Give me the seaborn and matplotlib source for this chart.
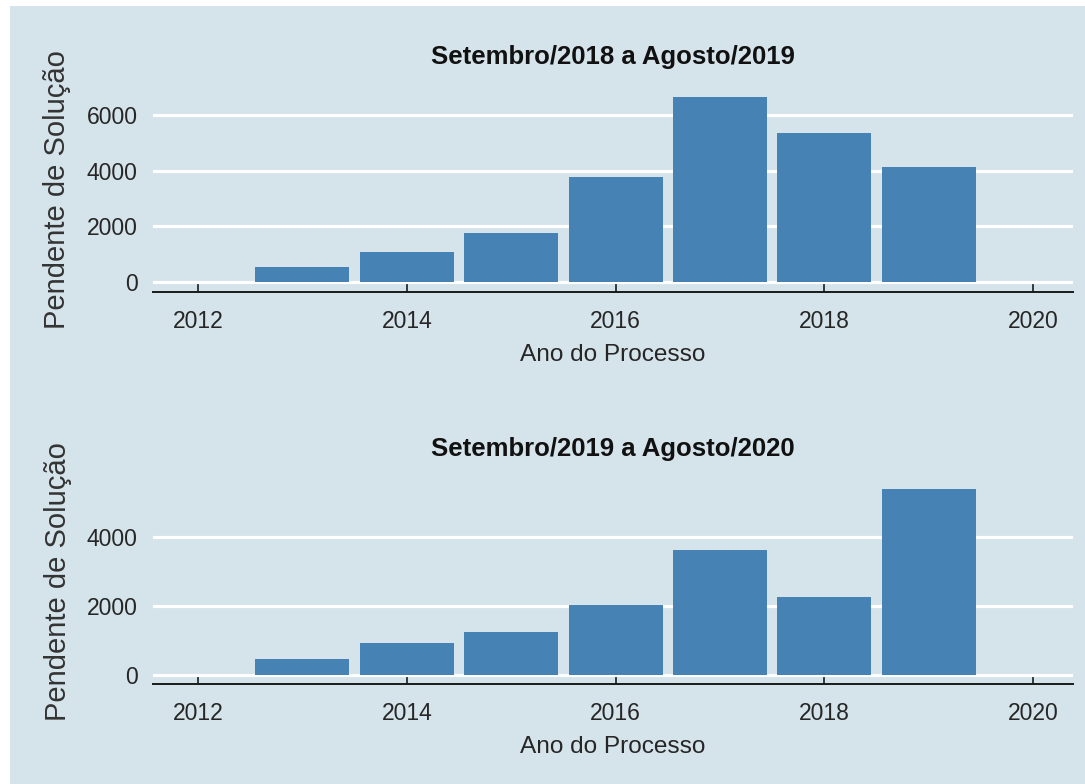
import matplotlib
matplotlib.use("Agg")
import matplotlib.pyplot as plt
import numpy as np
import pandas as pd
import seaborn as sns
from matplotlib.patches import Rectangle

# values
anos = [2013, 2014, 2015, 2016, 2017, 2018, 2019]
pendente_2018_2019 = [550, 1090, 1760, 3780, 6650, 5340, 4120]
pendente_2019_2020 = [455, 920, 1220, 2030, 3620, 2250, 5380]
titulos = ["Setembro/2018 a Agosto/2019", "Setembro/2019 a Agosto/2020"]
xticks = [2012, 2014, 2016, 2018, 2020]
yticks_top = [0, 2000, 4000, 6000]
yticks_bottom = [0, 2000, 4000]

BG = "#d5e3ea"
BAR = "#4682b4"
TXT = "#262626"

sns.set_theme(style="white")
plt.rcParams["font.family"] = ["Liberation Sans", "DejaVu Sans"]

fig = plt.figure(figsize=(10.85, 7.84), dpi=100, facecolor="white")
fig.patches.append(Rectangle((10 / 1085, 0), 1, 1 - 6 / 784, transform=fig.transFigure,
                             facecolor=BG, edgecolor="none", zorder=-10))

W, H = 1085, 784
# axes boxes in pixels: left, top(px from top), right, bottom(px from top)
boxes = [(153, 87.4, 1073, 291.5), (153, 479.9, 1073, 683.8)]
series = [pendente_2018_2019, pendente_2019_2020]
yticks_all = [yticks_top, yticks_bottom]

for box, vals, titulo, yt in zip(boxes, series, titulos, yticks_all):
    l, t, r, b = box
    ax = fig.add_axes([l / W, 1 - b / H, (r - l) / W, (b - t) / H])
    ax.set_facecolor("none")
    df = pd.DataFrame({"ano": anos, "pendente": vals})
    sns.barplot(data=df, x="ano", y="pendente", native_scale=True, width=0.9,
                color=BAR, saturation=1, edgecolor="none", ax=ax, zorder=3)
    vmax = max(vals)
    ax.set_ylim(-0.05 * vmax, 1.05 * vmax)
    ax.set_xlim(2011.57, 2020.38)
    ax.set_xticks(xticks)
    ax.set_xticklabels([str(x) for x in xticks])
    ax.set_yticks(yt)
    ax.set_yticklabels([str(y) for y in yt])
    ax.yaxis.grid(True, color="white", linewidth=2.3, zorder=1)
    ax.xaxis.grid(False)
    ax.set_axisbelow(True)
    for s in ["top", "right", "left"]:
        ax.spines[s].set_visible(False)
    ax.spines["bottom"].set_color("#1a1a1a")
    ax.spines["bottom"].set_linewidth(1.4)
    ax.tick_params(axis="x", direction="in", length=6, width=1.2, color="#1a1a1a",
                   labelsize=16.5, labelcolor=TXT, pad=13, bottom=True)
    ax.tick_params(axis="y", length=0, labelsize=16.5, labelcolor=TXT, pad=11)
    ax.set_xlabel("Ano do Processo", fontsize=17.6, color=TXT, labelpad=8)
    ax.set_ylabel("Pendente de Solução", fontsize=21, color="#333333", labelpad=11)
    ax.set_title(titulo, fontsize=18.5, fontweight="bold", color="#111111", pad=17)

fig.savefig("out.png", dpi=100, facecolor=fig.get_facecolor())
